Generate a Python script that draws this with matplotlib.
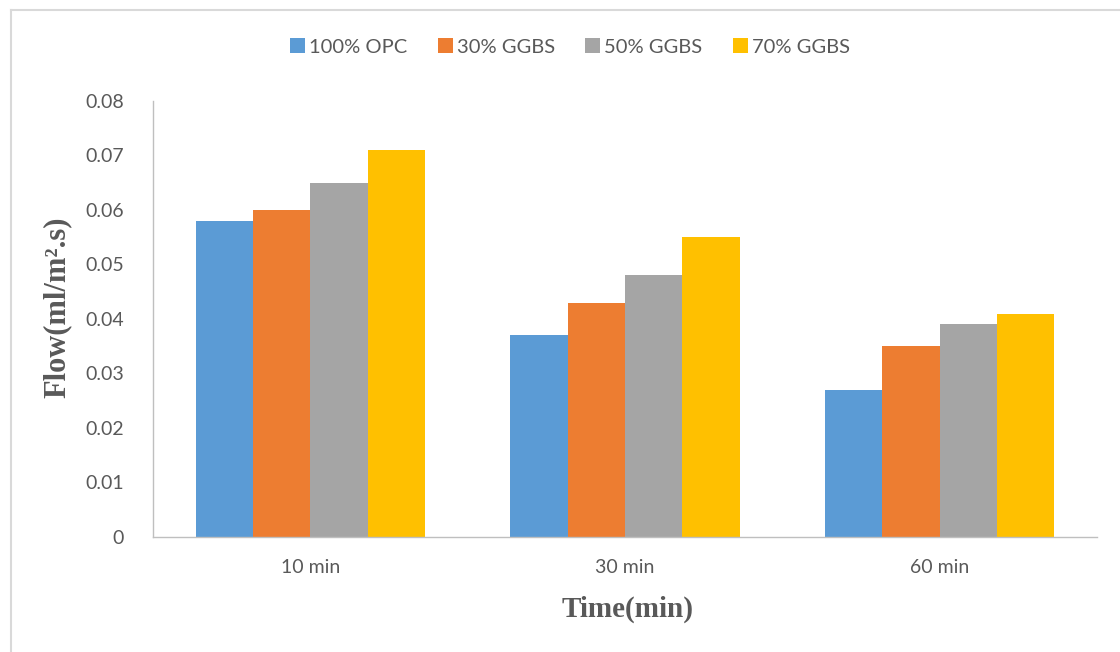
import matplotlib
matplotlib.use("Agg")
import matplotlib.pyplot as plt
import numpy as np
from matplotlib.lines import Line2D

categories = ["10 min", "30 min", "60 min"]
series_names = ["100% OPC", "30% GGBS", "50% GGBS", "70% GGBS"]
opc_100 = [0.058, 0.037, 0.027]
ggbs_30 = [0.060, 0.043, 0.035]
ggbs_50 = [0.065, 0.048, 0.039]
ggbs_70 = [0.071, 0.055, 0.041]
yticks = [0, 0.01, 0.02, 0.03, 0.04, 0.05, 0.06, 0.07, 0.08]
ytick_labels = ["0", "0.01", "0.02", "0.03", "0.04", "0.05", "0.06", "0.07", "0.08"]

colors = ["#5B9BD5", "#ED7D31", "#A5A5A5", "#FFC000"]
text_color = "#595959"
sans = ["Lato", "DejaVu Sans"]
serif = ["Liberation Serif", "DejaVu Serif"]

fig = plt.figure(figsize=(11.2, 6.52), dpi=100)
ax = fig.add_axes([0.1366, 0.1764, 0.8429, 0.6687])

x = np.arange(len(categories))
group_width = 0.7286
bar_w = group_width / len(series_names)
all_series = [opc_100, ggbs_30, ggbs_50, ggbs_70]
for i, (vals, name, c) in enumerate(zip(all_series, series_names, colors)):
    offset = -group_width / 2 + bar_w * (i + 0.5)
    ax.bar(x + offset, vals, width=bar_w, color=c, label=name, zorder=2)

ax.set_xlim(-0.5, len(categories) - 0.5)
ax.set_ylim(0, 0.08)
ax.set_yticks(yticks)
ax.set_yticklabels(ytick_labels, fontfamily=sans, fontsize=14, color=text_color)
ax.set_xticks(x)
ax.set_xticklabels(categories, fontfamily=sans, fontsize=14, color=text_color)
ax.tick_params(axis="both", length=0)
ax.tick_params(axis="y", pad=21)
ax.tick_params(axis="x", pad=16)

for side in ["top", "right"]:
    ax.spines[side].set_visible(False)
ax.spines["left"].set_color("#BFBFBF")
ax.spines["bottom"].set_color("#BFBFBF")
ax.spines["left"].set_linewidth(1.0)
ax.spines["bottom"].set_linewidth(1.0)

fig.text(0.051, 0.529, "Flow(ml/m\u00b2.s)", rotation=90, ha="center", va="center",
         fontfamily=serif, fontweight="bold", fontsize=22, color=text_color)
fig.text(0.560, 0.066, "Time(min)", ha="center", va="center",
         fontfamily=serif, fontweight="bold", fontsize=21, color=text_color)

leg = fig.legend(loc="center", bbox_to_anchor=(0.509, 0.928), ncol=4, frameon=False,
                 prop={"family": sans, "size": 14.5}, handlelength=0.75, handleheight=0.75,
                 handletextpad=0.2, columnspacing=1.5)
for t in leg.get_texts():
    t.set_color(text_color)

# chart frame
fig.add_artist(Line2D([0.0098, 0.0098], [0.0, 0.984], transform=fig.transFigure,
                      color="#D9D9D9", linewidth=1.5))
fig.add_artist(Line2D([0.0098, 1.0], [0.984, 0.984], transform=fig.transFigure,
                      color="#D9D9D9", linewidth=1.5))

fig.savefig("out.png", dpi=100)
